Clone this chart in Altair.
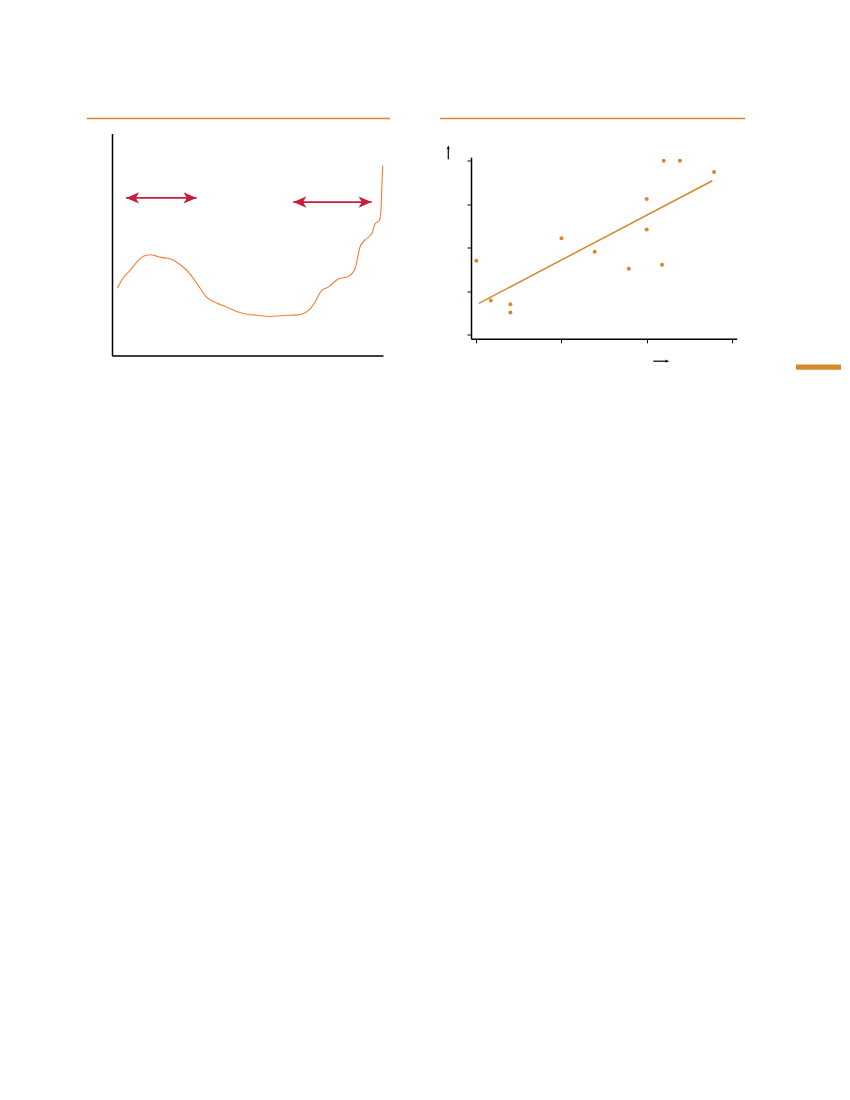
import altair as alt
import pandas as pd

# ---------------- data ----------------
# left panel: schematic curve (x, y on 0..100 scales)
curve_x = [1.96, 4.17, 6.64, 9.11, 11.55, 14.02, 15.87, 17.71, 21.40, 25.09, 28.78,
           31.85, 34.94, 38.63, 42.32, 46.01, 50.30, 52.14, 58.30, 63.21, 68.75, 73.06,
           74.91, 77.38, 79.82, 83.51, 87.20, 89.67, 91.51, 93.36, 95.83, 97.05, 98.63,
           99.15, 99.63, 99.89]
curve_y = [30.3, 35.0, 38.3, 42.0, 44.7, 45.4, 45.0, 44.3, 43.6, 41.0, 36.8,
           31.5, 26.3, 23.6, 21.8, 19.8, 18.5, 18.3, 17.6, 18.0, 18.3, 21.0,
           24.0, 29.3, 30.8, 34.5, 35.6, 39.1, 48.8, 52.1, 54.8, 59.3, 60.8,
           63.8, 77.3, 85.6]
arrow_start = [5.2, 66.9]
arrow_end = [31.2, 95.8]
arrow_level = [71.0, 69.1]

# right panel: scatter with regression line
pts_x = [0.0, 0.17, 0.40, 0.40, 1.00, 1.39, 1.79, 2.00, 2.00, 2.18, 2.20, 2.39, 2.79]
pts_y = [1.70, 0.79, 0.70, 0.51, 2.22, 1.91, 1.52, 3.12, 2.42, 1.61, 4.00, 4.00, 3.74]
x_ticks = [0, 1, 2, 3]
y_ticks = [0, 1, 2, 3, 4]

GOLD = "#d38a2b"
CURVE = "#f47d3a"
CRIMSON = "#c41f3b"

one = alt.Data(values=[{}])

# ---------------- left panel ----------------
curve_df = pd.DataFrame({"x": curve_x, "y": curve_y})
arrow_df = pd.DataFrame({"x1": arrow_start, "x2": arrow_end, "y": arrow_level})

lx = alt.Scale(domain=[0, 100], nice=False, zero=False)
ly = alt.Scale(domain=[0, 100], nice=False, zero=False)
ax_plain = dict(ticks=False, labels=False, grid=False, title=None,
                domainColor="black", domainWidth=1.5)

curve = alt.Chart(curve_df).mark_line(color=CURVE, strokeWidth=1.1, interpolate="monotone").encode(
    x=alt.X("x:Q", scale=lx, axis=alt.Axis(**ax_plain)),
    y=alt.Y("y:Q", scale=ly, axis=alt.Axis(**ax_plain)),
)
shafts = alt.Chart(arrow_df).mark_rule(color=CRIMSON, strokeWidth=1.6).encode(
    x=alt.X("x1:Q", scale=lx), x2="x2:Q", y=alt.Y("y:Q", scale=ly)
)
head_l = alt.Chart(arrow_df).mark_point(
    shape="M0,0L2,-0.87L1.5,0L2,0.87Z", size=169, filled=True, color=CRIMSON, opacity=1
).encode(x=alt.X("x1:Q", scale=lx), y=alt.Y("y:Q", scale=ly))
head_r = alt.Chart(arrow_df).mark_point(
    shape="M0,0L-2,-0.87L-1.5,0L-2,0.87Z", size=169, filled=True, color=CRIMSON, opacity=1
).encode(x=alt.X("x2:Q", scale=lx), y=alt.Y("y:Q", scale=ly))
top_rule_l = alt.Chart(one).mark_rule(color=GOLD, strokeWidth=1.3).encode(
    x=alt.value(-25), x2=alt.value(278), y=alt.value(-15)
)

left = alt.layer(top_rule_l, curve, shafts, head_l, head_r).properties(width=271, height=222)

# ---------------- right panel ----------------
# plot group spans 133..338.3 px; the y axis itself only covers 156.7..338.3
RH = 205.3
pts_df = pd.DataFrame({"x": pts_x, "y": pts_y})
rx = alt.Scale(domain=[-0.062, 3.056], nice=False, zero=False)
ry = alt.Scale(domain=[-0.092, 4.083], nice=False, zero=False, range=[RH, 23.7])
ax_tick = dict(labels=False, grid=False, title=None, ticks=True, tickSize=4,
               tickColor="black", tickWidth=1, domainColor="black", domainWidth=1.5)

points = alt.Chart(pts_df).mark_circle(color=GOLD, size=16, opacity=1).encode(
    x=alt.X("x:Q", scale=rx, axis=alt.Axis(values=x_ticks, **ax_tick)),
    y=alt.Y("y:Q", scale=ry, axis=alt.Axis(values=y_ticks, **ax_tick)),
)
reg = alt.Chart(pts_df).transform_regression("x", "y", extent=[0.03, 2.77]).mark_line(
    color=GOLD, strokeWidth=1.5
).encode(x=alt.X("x:Q", scale=rx), y=alt.Y("y:Q", scale=ry))

top_rule_r = alt.Chart(one).mark_rule(color=GOLD, strokeWidth=1.3).encode(
    x=alt.value(-31), x2=alt.value(274), y=alt.value(-15)
)
up_shaft = alt.Chart(one).mark_rule(color="black", strokeWidth=1.2).encode(
    x=alt.value(-22.7), y=alt.value(25.7), y2=alt.value(13.7)
)
up_head = alt.Chart(one).mark_point(
    shape="M0,0L-0.8,2.2L0,1.6L0.8,2.2Z", size=16, filled=True, color="black", opacity=1
).encode(x=alt.value(-22.7), y=alt.value(11.7))
right_shaft = alt.Chart(one).mark_rule(color="black", strokeWidth=1.2).encode(
    x=alt.value(182.3), x2=alt.value(196), y=alt.value(227.7)
)
right_head = alt.Chart(one).mark_point(
    shape="M0,0L-2.2,-0.8L-1.6,0L-2.2,0.8Z", size=16, filled=True, color="black", opacity=1
).encode(x=alt.value(198.3), y=alt.value(227.7))
side_bar = alt.Chart(one).mark_rect(color=GOLD).encode(
    x=alt.value(325), x2=alt.value(370), y=alt.value(231), y2=alt.value(236.3)
)

right = alt.layer(
    top_rule_r, reg, points, up_shaft, up_head, right_shaft, right_head, side_bar
).properties(width=265.7, height=RH)

chart = alt.hconcat(left, right, spacing=48).properties(
    padding={"left": 78, "top": 109.5, "right": 0, "bottom": 10},
    background="white",
).configure_view(stroke=None)

chart.save("out.html", embed_options={"renderer": "svg", "actions": False})
